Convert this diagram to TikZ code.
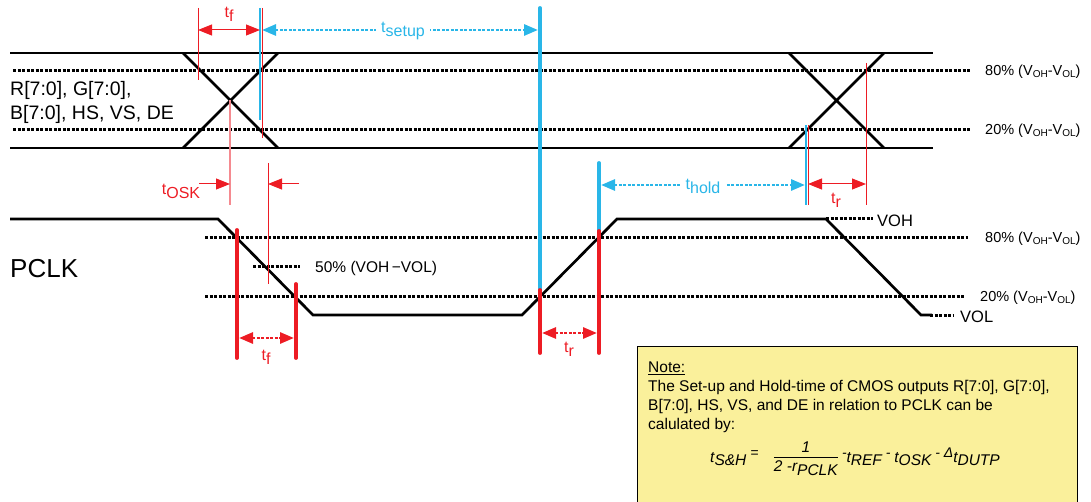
\documentclass[tikz,border=0pt]{standalone}
\usepackage{fontspec}
\setmainfont{Liberation Sans}
\usetikzlibrary{arrows.meta,positioning}
\definecolor{tred}{HTML}{ED1C24}
\definecolor{tblue}{HTML}{29B6E8}
\definecolor{tpink}{HTML}{F58A90}
\definecolor{notefill}{HTML}{FAF09B}
\newcommand\sublo[1]{\raisebox{-0.25em}{#1}}
\newcommand\suphi[1]{\raisebox{0.3em}{\fontsize{14}{14}\selectfont #1}}
\newcommand\vsub[1]{\raisebox{-0.1em}{\fontsize{10}{10}\selectfont #1}}
\tikzset{
    wave/.style={line width=2.7pt},
    level/.style={line width=3pt, dash pattern=on 3pt off 1.5pt},
    thinred/.style={draw=tred, line width=1pt},
    redbar/.style={draw=tred, line width=3.8pt, line cap=round},
    bluebar/.style={draw=tblue, line width=3.8pt, line cap=round},
    dimtip/.style={{Triangle[length=14pt,width=11pt]}-{Triangle[length=14pt,width=11pt]}},
    dimred/.style={thinred, dimtip},
    dimreddot/.style={draw=tred, line width=2.8pt, dash pattern=on 3pt off 1.5pt, dimtip},
    dimblue/.style={draw=tblue, line width=2.8pt, dash pattern=on 3pt off 1.5pt, dimtip},
    tlabel/.style={font=\fontsize{16}{18}\selectfont, inner sep=1pt},
    pct/.style={font=\fontsize{14.5}{16}\selectfont, anchor=west, inner sep=0pt},
}
\begin{document}
\begin{tikzpicture}[x=1pt, y=-1pt]
\useasboundingbox (0,0) rectangle (1091,502);
% data bus
\draw[level] (13,71) -- (970,71);
\draw[level] (13,130) -- (970,130);
\draw[wave] (10,53) -- (933,53) (10,148) -- (933,148);
\draw[wave] (183,53) -- (278,148) (183,148) -- (278,53);
\draw[wave] (789,53) -- (884,148) (789,148) -- (884,53);
\node[anchor=west, align=left, inner sep=0pt, font=\fontsize{19.5}{24}\selectfont] (bus) at (10,102) {R[7:0], G[7:0],\\B[7:0], HS, VS, DE};
\node[pct] (p80a) at (985,72) {80\% (V\vsub{OH}-V\vsub{OL})};
\node[pct] (p20a) at (985,131) {20\% (V\vsub{OH}-V\vsub{OL})};
% clock
\draw[level] (205,238) -- (968,238);
\draw[level] (205,297) -- (964,297);
\draw[level] (253,267) -- (300,267);
\draw[level] (826,219) -- (873,219);
\draw[level] (930,315) -- (953,315);
\draw[wave] (10,219) -- (218,219) -- (313,315) -- (522,315) -- (617,219) -- (826,219) -- (921,315) -- (932,315);
\node[anchor=base west, inner sep=0pt, font=\fontsize{26}{30}\selectfont] (pclk) at (10,278) {PCLK};
\node[pct] (p80b) at (985,239) {80\% (V\vsub{OH}-V\vsub{OL})};
\node[pct] (p20b) at (980,298) {20\% (V\vsub{OH}-V\vsub{OL})};
\node[anchor=west, inner sep=0pt, font=\fontsize{15.5}{17}\selectfont] (p50) at (315,268) {50\% (VOH\,−VOL)};
\node[anchor=west, inner sep=0pt, font=\fontsize{16.5}{18}\selectfont] (voh) at (877,221) {VOH};
\node[anchor=west, inner sep=0pt, font=\fontsize{16.5}{18}\selectfont] (vol) at (960,317) {VOL};
% marker lines
\draw[thinred] (198,8) -- (198,80);
\draw[thinred] (262,8) -- (262,138);
\draw[draw=tblue, line width=2.6pt] (260,8) -- (260,120);
\draw[draw=tpink, line width=1.4pt] (230,100) -- (230,205);
\draw[thinred] (268,163) -- (268,284);
\draw[draw=tblue, line width=2.6pt] (806,125) -- (806,205);
\draw[thinred] (808,125) -- (808,205);
\draw[thinred] (866,63) -- (866,205);
\draw[redbar] (237,230) -- (237,358);
\draw[redbar] (296,284) -- (296,358);
\draw[bluebar] (540,8) -- (540,290);
\draw[redbar] (540,290) -- (540,353);
\draw[bluebar] (599,163) -- (599,231);
\draw[redbar] (599,231) -- (599,353);
% dimensions
\coordinate (tfa) at (198,30);
\coordinate (tfb) at (260,30);
\coordinate (tsa) at (262,30);
\coordinate (tsb) at (538,30);
\coordinate (toa) at (199,184);
\coordinate (tob) at (230,184);
\coordinate (toc) at (299,184);
\coordinate (tod) at (268,184);
\coordinate (tha) at (601,185);
\coordinate (thb) at (805,185);
\coordinate (tra) at (808,184);
\coordinate (trb) at (866,184);
\coordinate (fca) at (239,338);
\coordinate (fcb) at (294,338);
\coordinate (rca) at (542,333);
\coordinate (rcb) at (597,333);
\draw[dimred] (tfa) -- (tfb);
\node[tlabel, text=tred] (tftop) at (229,14) {t\sublo{f}};
\draw[dimblue] (tsa) -- (tsb);
\node[tlabel, text=tblue, fill=white, inner sep=5pt] (tsetup) at (403,31) {t\sublo{setup}};
\draw[thinred, -{Triangle[length=14pt,width=11pt]}] (toa) -- (tob);
\draw[thinred, -{Triangle[length=14pt,width=11pt]}] (toc) -- (tod);
\node[tlabel, text=tred] (tosk) at (181,191) {t\sublo{OSK}};
\draw[dimblue] (tha) -- (thb);
\node[tlabel, text=tblue, fill=white, inner sep=5pt] (thold) at (703,186) {t\sublo{hold}};
\draw[dimred] (tra) -- (trb);
\node[tlabel, text=tred] (trtop) at (836,200) {t\sublo{r}};
\draw[dimreddot] (fca) -- (fcb);
\node[tlabel, text=tred] (tfbot) at (266,357) {t\sublo{f}};
\draw[dimreddot] (rca) -- (rcb);
\node[tlabel, text=tred] (trbot) at (569,349) {t\sublo{r}};
% note
\node[draw, line width=0.9pt, fill=notefill, minimum width=440pt, minimum height=170pt, anchor=north west, inner sep=0pt] (notebox) at (637,346) {};
\node[anchor=north west, align=left, inner sep=0pt, font=\fontsize{15.5}{19}\selectfont] (notetxt) at (648,362) {\underline{Note:}\\The Set-up and Hold-time of CMOS outputs R[7:0], G[7:0],\\B[7:0], HS, VS, and DE in relation to PCLK can be\\calulated by:};
\node[anchor=base west, inner sep=0pt, font=\fontsize{15.5}{18}\selectfont\itshape] (formula) at (710,462) {t\sublo{S\&H}\suphi{ =}\quad\begin{tabular}{@{}c@{}}1\\[-1pt]\hline\rule{0pt}{15pt}2 -r\sublo{PCLK}\end{tabular}\ \suphi{-}t\sublo{REF}\suphi{ - }t\sublo{OSK}\suphi{ - }\suphi{Δ}t\sublo{DUTP}};
\end{tikzpicture}
\end{document}
